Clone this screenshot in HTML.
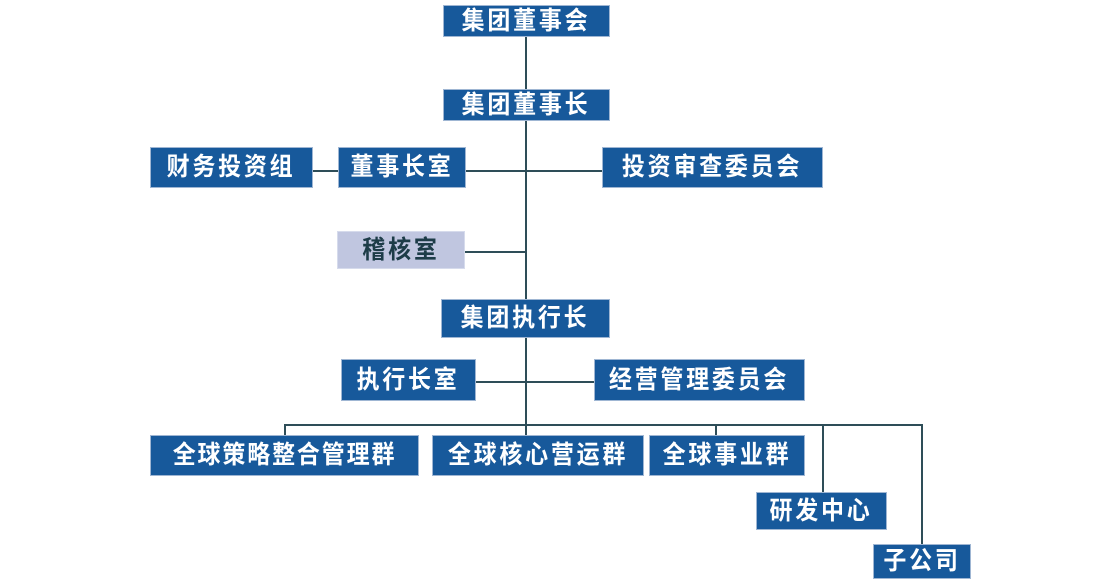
<!DOCTYPE html>
<html><head><meta charset="utf-8"><style>
body{margin:0;width:1110px;height:585px;background:#fff;position:relative;overflow:hidden;font-family:"Liberation Sans","Noto Sans CJK SC",sans-serif}
.b{position:absolute;background:#17599b;color:#fff;font-weight:bold;font-size:25px;letter-spacing:3px;display:flex;align-items:center;justify-content:center;box-shadow:0 0 0 1px #9fb6d3;white-space:nowrap;line-height:1}
.b span{display:inline-block;transform:scaleX(0.92)}
.g{background:#c0c6e0;color:#1d3c48;box-shadow:0 0 0 1px #d6dbec}
.l{position:absolute;background:#2e4d58}
</style></head><body>
<div class="l" style="left:525px;top:36px;width:2px;height:400px"></div>
<div class="l" style="left:312px;top:170px;width:291px;height:2px"></div>
<div class="l" style="left:464px;top:251px;width:62px;height:2px"></div>
<div class="l" style="left:475px;top:381px;width:120px;height:2px"></div>
<div class="l" style="left:284px;top:424px;width:638px;height:2px"></div>
<div class="l" style="left:284px;top:424px;width:2px;height:12px"></div>
<div class="l" style="left:715px;top:424px;width:2px;height:12px"></div>
<div class="l" style="left:822px;top:424px;width:2px;height:69px"></div>
<div class="l" style="left:921px;top:424px;width:2px;height:121px"></div>

<div class="b" style="left:444px;top:6px;width:165px;height:30px"><span>集团董事会</span></div>
<div class="b" style="left:444px;top:90px;width:165px;height:30px"><span>集团董事长</span></div>
<div class="b" style="left:151px;top:148px;width:161px;height:39px"><span>财务投资组</span></div>
<div class="b" style="left:339px;top:148px;width:126px;height:39px"><span>董事长室</span></div>
<div class="b" style="left:603px;top:148px;width:219px;height:39px"><span>投资审查委员会</span></div>
<div class="b g" style="left:338px;top:232px;width:126px;height:36px"><span>稽核室</span></div>
<div class="b" style="left:442px;top:300px;width:167px;height:37px"><span>集团执行长</span></div>
<div class="b" style="left:342px;top:360px;width:133px;height:40px"><span>执行长室</span></div>
<div class="b" style="left:595px;top:360px;width:209px;height:40px"><span>经营管理委员会</span></div>
<div class="b" style="left:151px;top:436px;width:267px;height:39px;letter-spacing:2px"><span>全球策略整合管理群</span></div>
<div class="b" style="left:433px;top:436px;width:210px;height:39px"><span>全球核心营运群</span></div>
<div class="b" style="left:650px;top:436px;width:154px;height:39px"><span>全球事业群</span></div>
<div class="b" style="left:757px;top:493px;width:129px;height:36px"><span>研发中心</span></div>
<div class="b" style="left:874px;top:545px;width:96px;height:33px"><span>子公司</span></div>
</body></html>
